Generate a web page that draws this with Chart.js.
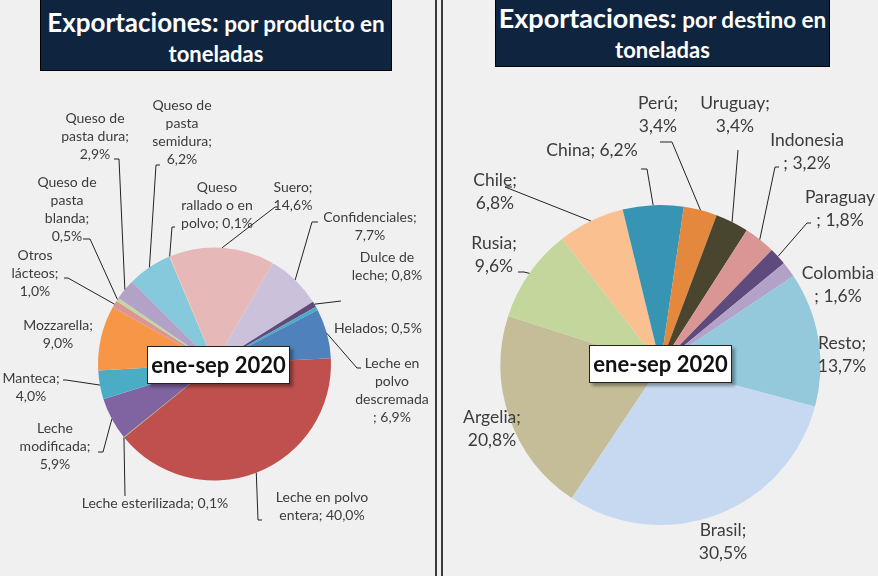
<!DOCTYPE html>
<html>
<head>
<meta charset="utf-8">
<script src="https://cdn.jsdelivr.net/npm/chart.js@4.4.0/dist/chart.umd.min.js"></script>
<style>
  html, body { margin: 0; padding: 0; background: #f0f0f0; }
  body { width: 878px; height: 576px; position: relative; overflow: hidden; font-family: Lato, sans-serif; }
  canvas { position: absolute; top: 0; }
  #productChart { left: 0; }
  #destChart { left: 443px; }
  .vline { position: absolute; top: 0; width: 2px; height: 576px; background: #3a3a3a; }
  .title {
    position: absolute; top: -2px; background: #0f243e; border: 1px solid #000;
    color: #fff; font-weight: bold; text-align: center; box-sizing: border-box;
  }
  .title .l1 { height: 32px; line-height: 32px; font-size: 26px; white-space: nowrap; }
  .title .small { font-size: 22.5px; }
  .title .l2 { font-size: 22px; line-height: 26px; margin-top: 3px; }
  .period {
    position: absolute; background: #fff; border: 1.5px solid #222; box-sizing: border-box;
    box-shadow: 3px 3px 3px rgba(0,0,0,0.35); font-weight: bold; font-size: 22px;
    color: #111; text-align: center; line-height: 35px; width: 143px; height: 38px;
  }
</style>
</head>
<body>
<canvas id="productChart" width="435" height="576"></canvas>
<canvas id="destChart" width="435" height="576"></canvas>
<div class="vline" style="left:435px"></div>
<div class="vline" style="left:441px"></div>

<div class="title" style="left:40px;width:352px;height:73px;padding-top:7px">
  <div class="l1">Exportaciones:<span class="small"> por producto en</span></div>
  <div class="l2">toneladas</div>
</div>
<div class="title" style="left:495px;width:335px;height:69px;padding-top:3px">
  <div class="l1" style="font-size:27px">Exportaciones:<span class="small"> por destino en</span></div>
  <div class="l2" style="margin-top:2.5px">toneladas</div>
</div>

<div class="period" style="left:147px;top:346px">ene-sep 2020</div>
<div class="period" style="left:589px;top:345px">ene-sep 2020</div>

<script>
// Exportaciones por producto (%)
const productCategories = [
  'Confidenciales', 'Dulce de leche', 'Helados', 'Leche en polvo descremada',
  'Leche en polvo entera', 'Leche esterilizada', 'Leche modificada', 'Manteca',
  'Mozzarella', 'Otros lácteos', 'Queso de pasta blanda', 'Queso de pasta dura',
  'Queso de pasta semidura', 'Queso rallado o en polvo', 'Suero'
];
const productValues = [7.7, 0.8, 0.5, 6.9, 40.0, 0.1, 5.9, 4.0, 9.0, 1.0, 0.5, 2.9, 6.2, 0.1, 14.6];
const productColors = [
  '#ccc1da', '#604a7b', '#4bacc6', '#4f81bd', '#c0504d', '#9bbb59', '#8064a2', '#4bacc6',
  '#f79646', '#d99694', '#c3d69b', '#b3a2c7', '#86c8dc', '#fac090', '#e6b9b8'
];

// Exportaciones por destino (%)
const destCategories = [
  'Brasil', 'Argelia', 'Rusia', 'Chile', 'China', 'Perú', 'Uruguay',
  'Indonesia', 'Paraguay', 'Colombia', 'Resto'
];
const destValues = [30.5, 20.8, 9.6, 6.8, 6.2, 3.4, 3.4, 3.2, 1.8, 1.6, 13.7];
const destColors = [
  '#c6d9f1', '#c4bd97', '#c3d69b', '#fac090', '#3795b3', '#e3883d',
  '#4a452f', '#d99694', '#5f4a7d', '#b3a2c7', '#93c9da'
];

// label placement (page coords): centre x, first line y, words per line, leader [x1,y1,x2,y2]
const productLabelLayout = [
  { x: 370, y: 217, wrap: [2, 1], leader: [318, 222, 312, 222] },
  { x: 387, y: 257, wrap: [2, 3], leader: [341, 301, 341, 301] },
  { x: 378, y: 328, wrap: [3], leader: null },
  { x: 392, y: 363, wrap: [2, 1, 1, 2], leader: [361, 368, 357, 368] },
  { x: 322, y: 497, wrap: [3, 3], leader: [262, 520, 258, 520] },
  { x: 155, y: 503, wrap: [4], leader: [125, 496, 125, 496] },
  { x: 55, y: 428, wrap: [1, 2, 1], leader: [98, 452, 103, 452] },
  { x: 31, y: 378, wrap: [2, 1], leader: [63, 380, 66, 380] },
  { x: 58, y: 325, wrap: [2, 1], leader: null },
  { x: 35, y: 255, wrap: [1, 2, 1], leader: [64, 278, 68, 278] },
  { x: 67, y: 182, wrap: [2, 1, 2, 1], leader: [83, 239, 90, 239] },
  { x: 95, y: 118, wrap: [2, 3, 1], leader: [114, 159, 119, 159] },
  { x: 182, y: 105, wrap: [2, 1, 2, 1], leader: [160, 165, 156, 165] },
  { x: 217, y: 187, wrap: [1, 3, 3], leader: [175, 227, 172, 227] },
  { x: 293, y: 187, wrap: [2, 1], leader: [278, 207, 275, 207] }
];
const destLabelLayout = [
  { x: 723, y: 530, wrap: [2, 1], leader: null },
  { x: 492, y: 417, wrap: [2, 1], leader: null },
  { x: 494, y: 243, wrap: [2, 1], leader: [518, 272, 524, 272] },
  { x: 495, y: 180, wrap: [2, 1], leader: [512, 187, 505, 187] },
  { x: 592, y: 150, wrap: [3], leader: [641, 169, 647, 169] },
  { x: 658, y: 103, wrap: [2, 1], leader: [660, 142, 672, 142] },
  { x: 735, y: 103, wrap: [2, 1], leader: [738, 150, 738, 150] },
  { x: 807, y: 140, wrap: [1, 2], leader: [779, 167, 775, 167] },
  { x: 840, y: 197, wrap: [1, 2], leader: [811, 223, 807, 223] },
  { x: 838, y: 273, wrap: [1, 2], leader: null },
  { x: 842, y: 343, wrap: [2, 1], leader: null }
];

function fmtPct(v) {
  return v.toFixed(1).replace('.', ',') + '%';
}

// "Categoria; 1,2%" broken into lines by word counts
function labelLines(cat, value, wrap) {
  const tokens = cat.split(' ').concat([';', fmtPct(value)]);
  const lines = [];
  let i = 0;
  wrap.forEach(n => {
    let s = '';
    tokens.slice(i, i + n).forEach(t => {
      if (t === ';') s += ';';
      else s += s ? ' ' + t : t;
    });
    lines.push(s);
    i += n;
  });
  return lines;
}

const outsideLabels = {
  id: 'outsideLabels',
  afterDatasetsDraw(chart, args, opts) {
    const ctx = chart.ctx;
    const meta = chart.getDatasetMeta(0);
    const values = chart.data.datasets[0].data;
    ctx.save();
    meta.data.forEach((arc, i) => {
      const lay = opts.layout[i];
      const p = arc.getProps(['x', 'y', 'startAngle', 'endAngle', 'outerRadius'], true);
      const mid = (p.startAngle + p.endAngle) / 2;
      const px = p.x + Math.cos(mid) * p.outerRadius;
      const py = p.y + Math.sin(mid) * p.outerRadius;
      const ox = opts.offsetX;
      if (lay.leader) {
        const [x1, y1, x2, y2] = lay.leader;
        ctx.strokeStyle = '#222';
        ctx.lineWidth = 1;
        ctx.beginPath();
        ctx.moveTo(x1 - ox, y1);
        ctx.lineTo(x2 - ox, y2);
        ctx.lineTo(px, py);
        ctx.stroke();
      }
      const lines = labelLines(chart.data.labels[i], values[i], lay.wrap);
      ctx.fillStyle = '#3c3c3c';
      ctx.font = opts.font;
      ctx.textAlign = 'center';
      ctx.textBaseline = 'middle';
      lines.forEach((ln, k) => {
        ctx.fillText(ln, lay.x - ox, lay.y + k * opts.lineHeight);
      });
    });
    ctx.restore();
  }
};

function makePie(id, labels, values, colors, rotation, padding, labelOpts) {
  return new Chart(document.getElementById(id), {
    type: 'pie',
    data: {
      labels: labels,
      datasets: [{
        data: values,
        backgroundColor: colors,
        borderWidth: 0
      }]
    },
    options: {
      responsive: false,
      animation: false,
      rotation: rotation,
      layout: { padding: padding },
      plugins: {
        legend: { display: false },
        tooltip: { enabled: false },
        outsideLabels: labelOpts
      }
    },
    plugins: [outsideLabels]
  });
}

makePie('productChart', productCategories, productValues, productColors, 30,
  { left: 98, right: 104, top: 247.5, bottom: 95.5 },
  { layout: productLabelLayout, offsetX: 0, font: '14px Lato', lineHeight: 18.3 });

makePie('destChart', destCategories, destValues, destColors, 105,
  { left: 57.5, right: 57.5, top: 205, bottom: 51 },
  { layout: destLabelLayout, offsetX: 443, font: '17.5px Lato', lineHeight: 23.5 });
</script>
</body>
</html>
